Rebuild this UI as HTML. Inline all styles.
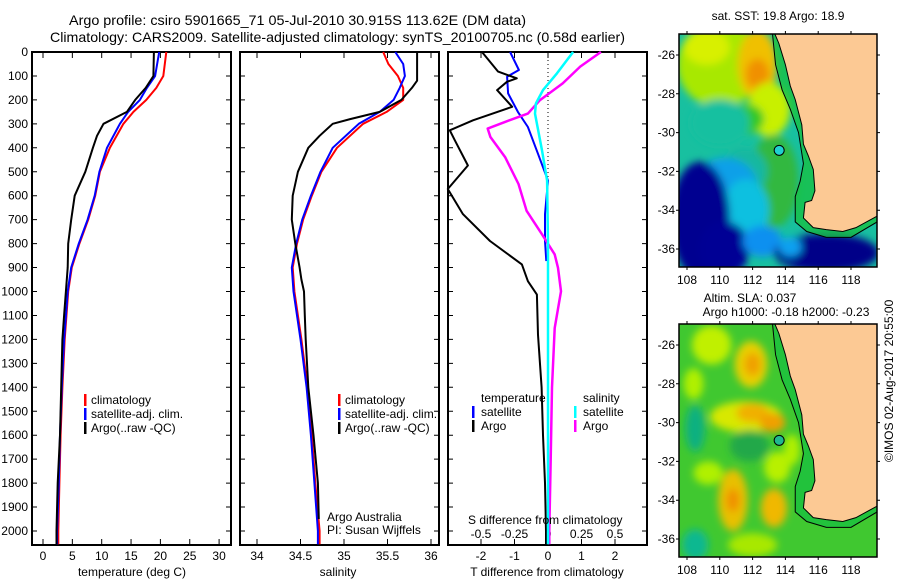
<!DOCTYPE html>
<html><head><meta charset="utf-8"><style>
html,body{margin:0;padding:0;background:#fff;}
svg{display:block;font-family:"Liberation Sans",sans-serif;}
</style></head><body>
<svg id="fig" width="900" height="580" viewBox="0 0 900 580" xmlns="http://www.w3.org/2000/svg">
<defs>
<filter id="blur1" x="-50%" y="-50%" width="200%" height="200%"><feGaussianBlur stdDeviation="4"/></filter>
<clipPath id="clipA"><rect x="679" y="34" width="198" height="233"/></clipPath>
<clipPath id="clipB"><rect x="679" y="324" width="198" height="233"/></clipPath>
</defs>
<text x="69" y="25" font-size="14" textLength="457" lengthAdjust="spacingAndGlyphs">Argo profile: csiro 5901665_71 05-Jul-2010 30.915S 113.62E (DM data)</text>
<text x="50" y="42" font-size="14" textLength="575" lengthAdjust="spacingAndGlyphs">Climatology: CARS2009. Satellite-adjusted climatology: synTS_20100705.nc (0.58d earlier)</text>
<g id="plots"></g>
<g id="maps"></g>
<text transform="translate(893,462) rotate(-90)" font-size="12">©IMOS 02-Aug-2017 20:55:00</text>
</svg>
<script>
// ---- data ----
const depthTicks=[0,100,200,300,400,500,600,700,800,900,1000,1100,1200,1300,1400,1500,1600,1700,1800,1900,2000];
const tempTicks=[0,5,10,15,20,25,30];
const salTicks=[34,34.5,35,35.5,36];
const salTickLabels=["34","34.5","35","35.5","36"];
const tdiffTicks=[-2,-1,0,1,2];
const sdiffTicks=[-0.5,-0.25,0,0.25,0.5];
const sdiffLabels=["-0.5","-0.25","0","0.25","0.5"];

const tDepth=[0,100,150,200,250,300,350,400,500,600,700,800,900,1000,1100,1200,1400,1600,1800,2000,2055];
const tArgo=[18.9,18.8,17.5,15.7,14.3,10.3,9.2,8.5,7.2,5.4,4.8,4.3,4.2,3.9,3.6,3.3,3.1,2.9,2.5,2.3,2.3];
const tClimDepth=[0,100,150,200,250,300,400,500,600,700,800,900,1000,1200,1400,1600,1800,2000,2055];
const tClim=[21.0,20.5,19.3,17.6,15.4,13.7,11.4,9.7,8.9,7.7,6.2,4.9,4.3,3.7,3.3,3.0,2.8,2.6,2.6];
const tSat=[19.8,19.1,17.7,16.5,14.5,13.1,10.9,9.6,8.8,7.6,6.1,4.8,4.2,3.6,3.2,2.9,2.7,2.4,2.4];

const sArgoDepth=[0,120,150,200,250,280,300,350,400,500,600,700,800,900,950,1000,1100,1200,1400,1600,1800,1950];
const sArgo=[35.84,35.84,35.78,35.66,35.41,35.07,34.87,34.72,34.59,34.47,34.41,34.40,34.44,34.49,34.51,34.54,34.55,34.56,34.59,34.65,34.70,34.71];
const sClimDepth=[0,50,100,150,200,250,300,400,500,600,700,800,900,1000,1200,1400,1600,1800,2000,2055];
const sClim=[35.45,35.51,35.62,35.68,35.68,35.49,35.22,34.92,34.74,34.63,34.53,34.46,34.41,34.43,34.51,34.58,34.63,34.67,34.72,34.72];
const sSat=[35.59,35.68,35.70,35.64,35.57,35.41,35.17,34.87,34.73,34.62,34.52,34.45,34.40,34.42,34.50,34.57,34.62,34.66,34.70,34.70];

const dArgoTDepth=[0,82,110,124,159,229,285,327,369,474,572,677,789,887,957,1013,1181,1400,1600,1800,2000,2055];
const dArgoT=[-1.97,-1.49,-0.93,-1.22,-1.52,-1.07,-2.24,-2.93,-2.78,-2.39,-2.99,-2.54,-1.73,-0.78,-0.6,-0.33,-0.3,-0.19,-0.15,-0.09,-0.06,-0.06];
const dSatTDepth=[0,75,103,173,250,313,425,537,677,789,873];
const dSatT=[-1.13,-0.87,-1.22,-1.19,-0.9,-0.6,-0.3,0,-0.09,-0.09,-0.05];
const dSatSDepth=[0,89,159,215,257,411,537,800,1200,1600,2055];
const dSatS=[0.187,0.067,-0.037,-0.09,-0.097,-0.045,-0.007,0,0,0,0];
const dArgoSDepth=[0,61,131,201,257,292,320,355,439,551,663,761,845,901,999,1153,1400,1700,2000,2055];
const dArgoS=[0.395,0.24,0.11,-0.06,-0.15,-0.32,-0.45,-0.43,-0.32,-0.22,-0.16,-0.045,0.05,0.075,0.097,0.05,0.03,0.02,0.01,0.01];

// ---- helpers ----
const NS="http://www.w3.org/2000/svg";
function mk(tag,attrs,parent){const e=document.createElementNS(NS,tag);for(const k in attrs)e.setAttribute(k,attrs[k]);parent.appendChild(e);return e;}
const yD=d=>52+d*0.2395;
const xT=t=>43+t*5.87;
const xS=s=>257+(s-34)*87;
const xDT=t=>548+t*33.5;
const xDS=s=>548+s*134;
const plots=document.getElementById('plots');
const yTopPx=52,yBotPx=545;

function panel(x0,x1,name){
  const r=mk('rect',{x:x0,y:yTopPx,width:x1-x0,height:yBotPx-yTopPx,fill:'none',stroke:'#000','stroke-width':2},plots);
  
  
  depthTicks.forEach(d=>{
    const l=mk('path',{d:`M${x0},${yD(d)}h5M${x1},${yD(d)}h-5`,stroke:'#000','stroke-width':1},plots);
    
    
  });
}
function xticks(vals,labels,fx,name){
  vals.forEach((v,i)=>{
    const x=fx(v);
    const l=mk('path',{d:`M${x},${yTopPx}v6M${x},${yBotPx}v-6`,stroke:'#000','stroke-width':1},plots);
    
    
    const t=mk('text',{x:x,y:560,'font-size':12,'text-anchor':'middle'},plots);
    t.textContent=labels[i];
    
    
  });
}
function line(depths,vals,fx,color,w,name){
  const pts=depths.map((d,i)=>fx(vals[i]).toFixed(1)+','+yD(d).toFixed(1)).join(' ');
  const p=mk('polyline',{points:pts,fill:'none',stroke:color,'stroke-width':w,'stroke-linejoin':'round'},plots);
  
  
}
function txt(x,y,s,name,anchor){
  const t=mk('text',{x:x,y:y,'font-size':12,'text-anchor':anchor||'start'},plots);
  t.textContent=s;
  
  
}
function legBar(x,y,color,name){
  const r=mk('rect',{x:x,y:y-10,width:2.5,height:12,fill:color},plots);
  
  
}

panel(32,231,'temperature-panel');
panel(240,439,'salinity-panel');
panel(448,647,'difference-panel');
depthTicks.forEach(d=>{
  const t=mk('text',{x:28,y:yD(d)+4,'font-size':12,'text-anchor':'end'},plots);
  t.textContent=String(d);
  
  
});
xticks(tempTicks,tempTicks.map(String),xT,'temperature-x');
xticks(salTicks,salTickLabels,xS,'salinity-x');
xticks(tdiffTicks,tdiffTicks.map(String),xDT,'tdiff-x');
sdiffTicks.forEach((v,i)=>txt(xDS(v),538,sdiffLabels[i],'sdiff-tick-label','middle'));

const z=mk('line',{x1:xDT(0),x2:xDT(0),y1:yTopPx,y2:yBotPx,stroke:'#000','stroke-width':1,'stroke-dasharray':'1,3'},plots);



line(tClimDepth,tClim,xT,'#f00',2,'temperature-climatology-line');
line(tClimDepth,tSat,xT,'#00f',2,'temperature-satellite-line');
line(tDepth,tArgo,xT,'#000',2,'temperature-argo-line');
line(sClimDepth,sClim,xS,'#f00',2,'salinity-climatology-line');
line(sClimDepth,sSat,xS,'#00f',2,'salinity-satellite-line');
line(sArgoDepth,sArgo,xS,'#000',2,'salinity-argo-line');
line(dSatTDepth,dSatT,xDT,'#00f',2,'tdiff-satellite-line');
line(dArgoTDepth,dArgoT,xDT,'#000',2,'tdiff-argo-line');
line(dArgoSDepth,dArgoS,xDS,'#f0f',2.5,'sdiff-argo-line');
line(dSatSDepth,dSatS,xDS,'#0ff',2.5,'sdiff-satellite-line');

[['#f00','climatology'],['#00f','satellite-adj. clim.'],['#000','Argo(..raw -QC)']].forEach((l,i)=>{
  legBar(84,404+i*14,l[0],'temp-legend-swatch');
  txt(91,404+i*14,l[1],'temp-legend-entry');
  legBar(338,404+i*14,l[0],'sal-legend-swatch');
  txt(345,404+i*14,l[1],'sal-legend-entry');
});
txt(481,402,'temperature','diff-legend-temperature-header');
txt(583,402,'salinity','diff-legend-salinity-header');
legBar(472,416,'#00f','diff-legend-swatch');txt(481,416,'satellite','diff-legend-entry');
legBar(472,430,'#000','diff-legend-swatch');txt(481,430,'Argo','diff-legend-entry');
legBar(574,416,'#0ff','diff-legend-swatch');txt(583,416,'satellite','diff-legend-entry');
legBar(574,430,'#f0f','diff-legend-swatch');txt(583,430,'Argo','diff-legend-entry');
txt(327,521,'Argo Australia','credit-argo-australia');
txt(327,534,'PI: Susan Wijffels','credit-pi');
txt(468,524,'S difference from climatology','sdiff-axis-title');
txt(132,576,'temperature (deg C)','temperature-axis-title','middle');
txt(338,576,'salinity','salinity-axis-title','middle');
txt(547,576,'T difference from climatology','tdiff-axis-title','middle');

// ---- maps ----
const lonTicks=[108,110,112,114,116,118];
const latTicks=[-26,-28,-30,-32,-34,-36];
const coast=[[113.3,-24.8],[113.6,-25.4],[114.0,-26.5],[114.3,-27.6],[114.6,-28.3],[115.0,-29.6],[115.1,-30.6],[115.4,-31.2],[115.7,-31.9],[115.8,-33.0],[115.6,-33.5],[115.2,-33.6],[115.1,-34.4],[115.7,-34.9],[116.5,-35.0],[117.5,-35.1],[118.3,-34.9],[119.6,-34.3],[119.6,-24.8]];
const isobath=[[113.2,-24.8],[113.4,-26.5],[113.8,-27.8],[114.3,-28.8],[114.8,-30.0],[115.1,-31.6],[114.9,-32.5],[114.6,-33.3],[114.6,-34.6],[115.3,-35.1],[116.5,-35.4],[118.0,-35.4],[119.6,-34.6]];
const argoLon=113.62, argoLat=-30.915;
// [lon, lat, rx(deg), ry(deg), colour]
const sstBlobs=[
 [110,-26.5,2.6,2.2,'#a8e800'],[109.2,-25.6,1.4,0.9,'#d8f000'],[112.3,-26.5,1.2,1.8,'#f0c000'],[112.3,-27.0,0.7,0.8,'#f09000'],
 [113.0,-28.8,1.3,1.4,'#c8f000'],[111.5,-29.3,1.2,0.8,'#30c828'],[110.0,-29.5,1.8,1.2,'#18c0a0'],
 [113.3,-32.5,1.5,2.4,'#30b840'],[111.5,-32.0,1.4,1.2,'#18b8a0'],
 [110.3,-32.8,2.0,1.5,'#10a0e8'],[111.6,-34.0,1.4,1.6,'#10c0e0'],
 [108.8,-34.5,1.8,3.0,'#000090'],[110.3,-36.0,1.5,1.4,'#000095'],[112.6,-35.6,1.2,0.8,'#1090f0'],
 [116.5,-36.2,3.2,1.0,'#000088'],[114.3,-35.9,0.7,0.5,'#10a0f0']];
const slaBlobs=[
 [109.5,-26.0,1.2,1.0,'#c0f000'],[111.9,-27.0,1.0,1.2,'#e8d000'],[112.0,-27.0,0.5,0.6,'#f0a000'],[108.4,-28.0,0.6,0.8,'#b0f000'],
 [111.6,-29.7,2.2,0.8,'#d8e800'],[112.0,-29.5,1.0,0.5,'#f0b000'],[113.2,-30.0,0.8,0.5,'#f0a000'],
 [108.5,-30.3,0.6,1.2,'#10b080'],[111.8,-31.2,1.2,0.8,'#20a848'],[113.5,-32.3,0.8,0.8,'#b8f000'],
 [109.3,-32.6,0.9,0.6,'#b0f000'],[110.8,-34.0,0.9,1.6,'#e8c000'],[110.8,-34.0,0.4,0.6,'#f09000'],
 [113.3,-34.4,0.8,1.0,'#f0b800'],[108.5,-36.3,0.8,0.8,'#10b890'],[112.0,-36.3,1.5,0.6,'#a8e800'],[114.4,-31.4,0.5,0.8,'#b0f000']];

function map(y0,blobs,base,circleColor,name,title1,title2){
  const mg=document.getElementById('maps');
  const X=lon=>687+(lon-108)*16.4;
  const Y=lat=>y0+21+(-26-lat)*19.4;
  const g=mk('g',{'clip-path':y0<100?'url(#clipA)':'url(#clipB)'},mg);
  
  
  mk('rect',{x:679,y:y0,width:198,height:233,fill:base},g);
  const bg=mk('g',{filter:'url(#blur1)'},g);
  blobs.forEach(b=>{
    const e=mk('ellipse',{cx:X(b[0]),cy:Y(b[1]),rx:b[2]*16.4,ry:b[3]*19.4,fill:b[4]},bg);
    
    
  });
  const shelf=mk('polygon',{points:isobath.map(p=>X(p[0])+','+Y(p[1])).concat([X(119.6)+','+Y(-24.8)]).join(' '),fill:'#18c040',opacity:0.75},g);
  
  
  const land=mk('polygon',{points:coast.map(p=>X(p[0])+','+Y(p[1])).join(' '),fill:'#fcc994',stroke:'#000','stroke-width':1},g);
  
  
  const iso=mk('polyline',{points:isobath.map(p=>X(p[0])+','+Y(p[1])).join(' '),fill:'none',stroke:'#000','stroke-width':1},g);
  
  
  const c=mk('circle',{cx:X(argoLon),cy:Y(argoLat),r:5,fill:circleColor,stroke:'#000','stroke-width':1},mg);
  
  
  const fr=mk('rect',{x:679,y:y0,width:198,height:233,fill:'none',stroke:'#000','stroke-width':1.5},mg);
  
  
  lonTicks.forEach(l=>{
    const tk=mk('path',{d:`M${X(l)},${y0}v-3M${X(l)},${y0+233}v3`,stroke:'#000'},mg);
    
    
    const t=mk('text',{x:X(l),y:y0+250,'font-size':12,'text-anchor':'middle'},mg);
    t.textContent=String(l);
    
    
  });
  latTicks.forEach(l=>{
    const tk=mk('path',{d:`M679,${Y(l)}h-3M877,${Y(l)}h3`,stroke:'#000'},mg);
    
    
    const t=mk('text',{x:675,y:Y(l)+4,'font-size':12,'text-anchor':'end'},mg);
    t.textContent=String(l);
    
    
  });
  const t1=mk('text',{x:title2?750:778,y:title2?y0-22:y0-14,'font-size':12,'text-anchor':'middle'},mg);
  t1.textContent=title1;
  
  
  if(title2){
    const t2=mk('text',{x:786,y:y0-8,'font-size':12,'text-anchor':'middle'},mg);
    t2.textContent=title2;
    
    
  }
}
map(34,sstBlobs,'#18c0a0','#20d0d0','sst-map','sat. SST: 19.8 Argo: 18.9');
map(324,slaBlobs,'#40c830','#20b890','sla-map','Altim. SLA: 0.037','Argo h1000: -0.18 h2000: -0.23');
</script>
</body></html>
